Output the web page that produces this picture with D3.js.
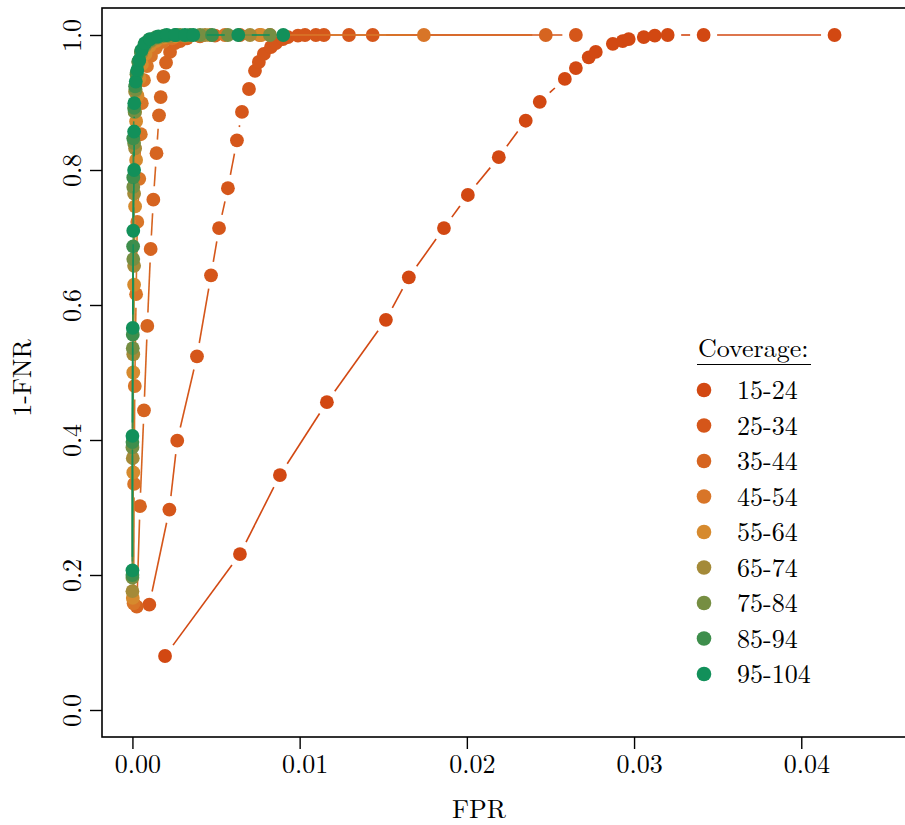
<!DOCTYPE html>
<html>
<head>
<meta charset="utf-8">
<script src="https://cdn.jsdelivr.net/npm/d3@7"></script>
<style>
  html, body { margin: 0; padding: 0; background: #fff; }
  svg { display: block; }
  text { font-family: "Latin Modern Roman", "CMU Serif", "Liberation Serif", serif; fill: #000; }
</style>
</head>
<body>
<svg id="chart" width="905" height="825"></svg>
<script>
// Coverage groups and their colours (red-orange through green)
const groups = ["15-24", "25-34", "35-44", "45-54", "55-64", "65-74", "75-84", "85-94", "95-104"];
const colors = ["#D24812", "#D5561A", "#D66420", "#D87528", "#D68A2E", "#A48A38", "#768E42", "#3E8E4C", "#12905A"];

// ROC points per coverage group: false positive rate and 1 - false negative rate
const fpr_15_24 = [0.00195, 0.00643, 0.00882, 0.01163, 0.01516, 0.01653, 0.01863, 0.02006, 0.02191, 0.02352, 0.02436, 0.02586, 0.02652, 0.02729, 0.02771, 0.02873, 0.02932, 0.02968, 0.03058, 0.03124, 0.03201, 0.03416, 0.04199];
const tpr_15_24 = [0.080, 0.231, 0.348, 0.456, 0.578, 0.641, 0.714, 0.763, 0.819, 0.873, 0.901, 0.935, 0.951, 0.967, 0.975, 0.987, 0.991, 0.994, 0.997, 0.999, 1.0, 1.0, 1.0];

const fpr_25_34 = [0.00101, 0.00221, 0.00268, 0.00386, 0.0047, 0.00518, 0.00571, 0.00625, 0.00655, 0.00697, 0.00733, 0.00756, 0.00786, 0.00828, 0.00858, 0.009, 0.0093, 0.0099, 0.01032, 0.01097, 0.01145, 0.01295, 0.01437, 0.02652];
const tpr_25_34 = [0.156, 0.297, 0.399, 0.524, 0.644, 0.714, 0.773, 0.844, 0.886, 0.920, 0.947, 0.960, 0.972, 0.982, 0.988, 0.994, 0.997, 0.999, 1.0, 1.0, 1.0, 1.0, 1.0, 1.0];

const fpr_35_44 = [0.00026, 0.00045, 0.00069, 0.00089, 0.00109, 0.00125, 0.00144, 0.00159, 0.00169, 0.00185, 0.00201, 0.00225, 0.00255, 0.00285, 0.00326, 0.00404, 0.00494, 0.00643, 0.00822, 0.02472];
const tpr_35_44 = [0.153, 0.302, 0.444, 0.569, 0.683, 0.756, 0.825, 0.881, 0.908, 0.938, 0.959, 0.975, 0.988, 0.991, 0.995, 0.998, 0.999, 1.0, 1.0, 1.0];

const fpr_45_54 = [0.00007, 0.0001, 0.00014, 0.00022, 0.00029, 0.00041, 0.0005, 0.00056, 0.00069, 0.00087, 0.00111, 0.00141, 0.00183, 0.00237, 0.00314, 0.00404, 0.00553, 0.0076, 0.01743];
const tpr_45_54 = [0.158, 0.335, 0.480, 0.616, 0.723, 0.787, 0.853, 0.899, 0.933, 0.954, 0.969, 0.981, 0.990, 0.995, 0.998, 0.999, 1.0, 1.0, 1.0];

const fpr_55_64 = [0.00002, 0.00005, 0.00005, 0.0001, 0.00016, 0.00022, 0.00022, 0.0003, 0.00042, 0.00057, 0.00078, 0.00105, 0.00141, 0.00189, 0.00255, 0.00344, 0.00464, 0.0077];
const tpr_55_64 = [0.166, 0.352, 0.500, 0.630, 0.746, 0.815, 0.872, 0.910, 0.936, 0.957, 0.972, 0.984, 0.991, 0.996, 0.998, 0.999, 1.0, 1.0];

const fpr_65_74 = [0.0, 0.00002, 0.00005, 0.0001, 0.0001, 0.00016, 0.00016, 0.00016, 0.00025, 0.00036, 0.00054, 0.00078, 0.00111, 0.00159, 0.00225, 0.00314, 0.00434, 0.00703];
const tpr_65_74 = [0.176, 0.373, 0.527, 0.658, 0.765, 0.832, 0.886, 0.916, 0.941, 0.959, 0.973, 0.984, 0.991, 0.996, 0.998, 0.999, 1.0, 1.0];

const fpr_75_84 = [0.0, 0.0, 0.00002, 0.00005, 0.00005, 0.0001, 0.00013, 0.00019, 0.00025, 0.00036, 0.00051, 0.00075, 0.00105, 0.00147, 0.00207, 0.00285, 0.00404, 0.00571, 0.00822];
const tpr_75_84 = [0.196, 0.389, 0.536, 0.668, 0.775, 0.840, 0.886, 0.919, 0.942, 0.960, 0.975, 0.985, 0.992, 0.996, 0.999, 1.0, 1.0, 1.0, 1.0];

const fpr_85_94 = [0.0, 0.0, 0.00002, 0.00004, 0.00005, 0.00005, 0.0001, 0.00016, 0.00025, 0.00036, 0.00051, 0.00072, 0.00099, 0.00141, 0.00189, 0.00261, 0.00344, 0.00476];
const tpr_85_94 = [0.200, 0.397, 0.556, 0.687, 0.789, 0.847, 0.892, 0.924, 0.944, 0.961, 0.976, 0.986, 0.993, 0.997, 0.999, 1.0, 1.0, 1.0];

const fpr_95_104 = [0.0, 0.0, 0.00002, 0.00005, 0.0001, 0.0001, 0.00011, 0.0002, 0.00029, 0.00041, 0.00056, 0.00075, 0.00105, 0.00155, 0.00205, 0.00255, 0.00314, 0.00364, 0.00633, 0.00902];
const tpr_95_104 = [0.207, 0.406, 0.566, 0.710, 0.800, 0.857, 0.899, 0.931, 0.948, 0.963, 0.978, 0.988, 0.994, 0.998, 1.0, 1.0, 1.0, 1.0, 1.0, 1.0];

// Axis tick values
const xTicks = [0, 0.01, 0.02, 0.03, 0.04];
const yTicks = [0, 0.2, 0.4, 0.6, 0.8, 1.0];

const fprs = [fpr_15_24, fpr_25_34, fpr_35_44, fpr_45_54, fpr_55_64, fpr_65_74, fpr_75_84, fpr_85_94, fpr_95_104];
const tprs = [tpr_15_24, tpr_25_34, tpr_35_44, tpr_45_54, tpr_55_64, tpr_65_74, tpr_75_84, tpr_85_94, tpr_95_104];

const series = groups.map((g, i) => ({
  label: g,
  color: colors[i],
  points: fprs[i].map((f, j) => ({ fpr: f, tpr: tprs[i][j] }))
}));

const svg = d3.select("#chart");

// Plot region (right edge runs past the canvas)
const x = d3.scaleLinear().domain([-0.00182, 0.04728]).range([102, 923]);
const y = d3.scaleLinear().domain([-0.04, 1.04]).range([737, 8]);

const pointR = 6.9;
const gap = 13.5;   // segments stop short of each point, as with type = "b"

const plot = svg.append("g");

series.forEach(s => {
  const g = plot.append("g");
  const pts = s.points.map(p => [x(p.fpr), y(p.tpr)]);
  const segs = [];
  for (let i = 1; i < pts.length; i++) {
    const [x1, y1] = pts[i - 1], [x2, y2] = pts[i];
    const d = Math.hypot(x2 - x1, y2 - y1);
    if (d > 2 * gap) {
      const ux = (x2 - x1) / d, uy = (y2 - y1) / d;
      segs.push([x1 + ux * gap, y1 + uy * gap, x2 - ux * gap, y2 - uy * gap]);
    }
  }
  g.selectAll("line").data(segs).join("line")
    .attr("x1", d => d[0]).attr("y1", d => d[1])
    .attr("x2", d => d[2]).attr("y2", d => d[3])
    .attr("stroke", s.color).attr("stroke-width", 1.6);
  g.selectAll("circle").data(s.points).join("circle")
    .attr("cx", d => x(d.fpr)).attr("cy", d => y(d.tpr))
    .attr("r", pointR).attr("fill", s.color);
});

// Box around the plot region
svg.append("rect")
  .attr("x", 102).attr("y", 8)
  .attr("width", 923 - 102).attr("height", 737 - 8)
  .attr("fill", "none").attr("stroke", "#000").attr("stroke-width", 1.6);

// X axis
const xAxis = svg.append("g").attr("transform", "translate(0,737)")
  .call(d3.axisBottom(x).tickValues(xTicks).tickFormat(d3.format(".2f")).tickSize(12));
xAxis.select(".domain").remove();
xAxis.selectAll(".tick line").attr("stroke", "#000").attr("stroke-width", 1.4);
xAxis.selectAll(".tick text")
  .attr("y", 36).attr("dy", null).attr("x", 5)
  .style("font-size", "26px");

// Y axis with rotated labels
const yAxis = svg.append("g").attr("transform", "translate(102,0)")
  .call(d3.axisLeft(y).tickValues(yTicks).tickFormat(d3.format(".1f")).tickSize(12));
yAxis.select(".domain").remove();
yAxis.selectAll(".tick line").attr("stroke", "#000").attr("stroke-width", 1.4);
yAxis.selectAll(".tick text")
  .attr("x", null).attr("dy", null)
  .attr("text-anchor", "middle")
  .attr("transform", "translate(-21,0) rotate(-90)")
  .style("font-size", "26px");

// Axis titles
svg.append("text").attr("x", 479).attr("y", 818)
  .attr("text-anchor", "middle").style("font-size", "26px").text("FPR");
svg.append("text")
  .attr("transform", "translate(31,378) rotate(-90)")
  .attr("text-anchor", "middle").style("font-size", "26px").text("1-FNR");

// Legend
const legend = svg.append("g");
legend.append("text").attr("x", 698).attr("y", 357)
  .style("font-size", "26px").text("Coverage:");
legend.append("line").attr("x1", 697).attr("x2", 811).attr("y1", 364.5).attr("y2", 364.5)
  .attr("stroke", "#000").attr("stroke-width", 1.2);
const rows = legend.selectAll("g.item").data(series).join("g")
  .attr("class", "item")
  .attr("transform", (d, i) => `translate(0,${390 + i * 35.5})`);
rows.append("circle").attr("cx", 704).attr("cy", 0).attr("r", 7.3).attr("fill", d => d.color);
rows.append("text").attr("x", 737).attr("y", 9).style("font-size", "26px").text(d => d.label);
</script>
</body>
</html>
